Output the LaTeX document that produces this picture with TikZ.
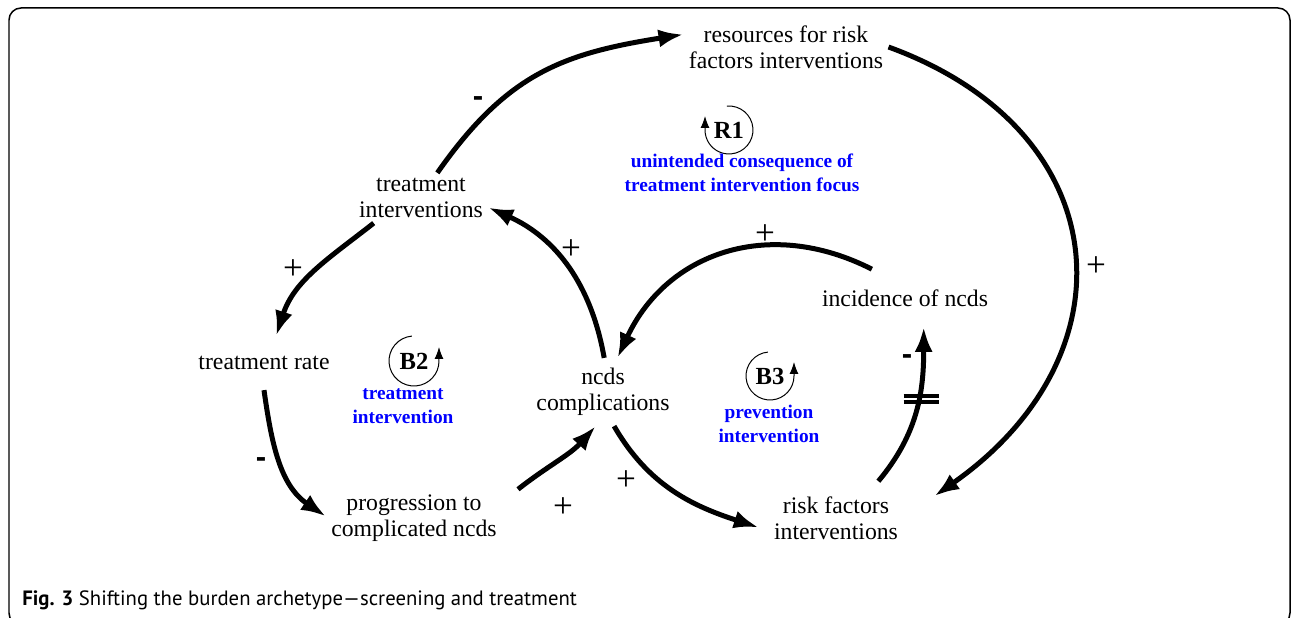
\documentclass[tikz,border=0pt]{standalone}
\usepackage{fontspec}
\setmainfont{Liberation Serif}
\setsansfont{PT Sans}
\usetikzlibrary{arrows.meta}

\begin{document}
\begin{tikzpicture}[x=0.02cm, y=0.02cm]
%styles du diagramme de boucles causales
\tikzset{facteur/.style={align=center, inner sep=0.1cm, font=\fontsize{13.5}{14.8}\selectfont}} %variables
\tikzset{lien/.style={line width=0.1cm, -{Latex[length=0.5cm,width=0.36cm]}}} %fleches causales
\tikzset{polarite/.style={inner sep=0pt, font=\fontsize{20}{20}\selectfont}}
\tikzset{moins/.style={inner sep=0pt, font=\fontsize{18}{18}\sffamily\bfseries\selectfont}}
\tikzset{boucle/.style={line width=0.02cm, -{Latex[length=0.24cm,width=0.18cm]}}} %fleche de boucle
\tikzset{nomboucle/.style={inner sep=0pt, font=\fontsize{14}{14}\bfseries\selectfont}}
\tikzset{titreboucle/.style={align=center, text=blue, font=\fontsize{11}{13.6}\bfseries\selectfont}}

\useasboundingbox (0,-618) rectangle (1292,0);
\draw[line width=0.03cm, rounded corners=0.24cm] (9,-8) rectangle (1290,-625); %cadre

%variables
\node[facteur] (res) at (786,-47) {resources for risk\\factors interventions};
\node[facteur] (ti) at (421,-198) {treatment\\interventions};
\node[facteur, inner ysep=0.4cm] (tr) at (264,-363) {treatment rate};
\node[facteur] (prog) at (414,-518) {progression to\\complicated ncds};
\node[facteur, inner ysep=0.2cm] (ncds) at (603,-392) {ncds\\complications};
\node[facteur, inner ysep=0.4cm] (inc) at (905,-298) {incidence of ncds};
\node[facteur, inner sep=0.3cm] (rfi) at (836,-518) {risk factors\\interventions};

%liens causaux
\draw[lien] (ti.57) to[out=55,in=189,looseness=1.1] (res.173);
\draw[lien] (res.east) .. controls +(-20:245) and +(35:245) .. ([shift={(21,-15)}]rfi.north east);
\draw[lien] (ti.208) to[out=218,in=72] (tr.66);
\draw[lien] (tr.south) to[out=-82,in=146] (prog.179);
\draw[lien] ([shift={(16,0)}]prog.north east) to[out=38,in=228] (ncds.258);
\draw[lien] (ncds.88) to[out=100,in=-24] (ti.-8);
\draw[lien] (ncds.288) to[out=-60,in=162] (rfi.187);
\draw[lien] (inc.139) to[out=153,in=65,looseness=1.1] (ncds.67);
\draw[lien] (rfi.41) to[out=50,in=-90] coordinate[pos=0.57] (delai) (inc.-57);
\draw[line width=0.08cm] ([shift={(-15,3)}]delai) -- ++(35,0) ([shift={(-15,-2.5)}]delai) -- ++(35,0); %retard

%polarites
\node[moins] (p1) at (478,-102) {-};
\node[polarite] (p2) at (1096,-267) {+};
\node[polarite] (p3) at (293,-270) {+};
\node[moins] (p4) at (261,-463) {-};
\node[polarite] (p5) at (563,-508) {+};
\node[polarite] (p6) at (571,-250) {+};
\node[polarite] (p7) at (626,-481) {+};
\node[polarite] (p8) at (765,-235) {+};
\node[moins] (p9) at (907,-360) {-};

%boucles
\node[nomboucle] (r1) at (729,-130) {R1};
\draw[boucle] (r1.center) ++(95:24) arc[start angle=95,end angle=-180,radius=0.48cm] -- ++(0,14);
\node[titreboucle] (t1) at (742,-173) {unintended consequence of\\treatment intervention focus};
\node[nomboucle] (b2) at (414,-361) {B2};
\draw[boucle] (b2.center) ++(95:25) arc[start angle=95,end angle=360,radius=0.5cm] -- ++(0,14);
\node[titreboucle] (t2) at (403,-406) {treatment\\intervention};
\node[nomboucle] (b3) at (770,-376) {B3};
\draw[boucle] (b3.center) ++(95:24) arc[start angle=95,end angle=360,radius=0.48cm] -- ++(0,14);
\node[titreboucle] (t3) at (769,-424) {prevention\\intervention};

%legende
\node[anchor=base west, inner sep=0pt, font=\fontsize{11.8}{14}\sffamily\selectfont] (legende) at (22,-605) {\textbf{Fig. 3} Shifting the burden archetype—screening and treatment};
\end{tikzpicture}
\end{document}
